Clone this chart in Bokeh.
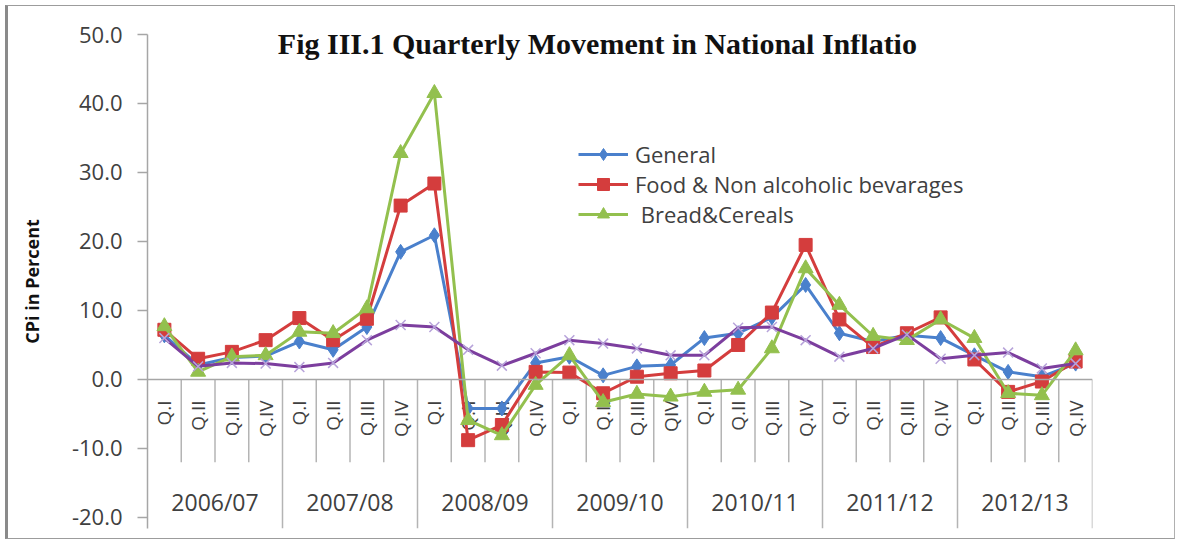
import numpy as np
from bokeh.plotting import figure
from bokeh.models import (Range1d, Span, Label, Legend, LegendItem,
                          NumeralTickFormatter, FixedTicker)
from bokeh.core.properties import value
from bokeh.embed import file_html
from bokeh.resources import INLINE

# ---------------- data ----------------
years = ["2006/07", "2007/08", "2008/09", "2009/10", "2010/11", "2011/12", "2012/13"]
quarter_labels = ["Q.I", "Q.II", "Q.III", "Q.IV",
                  "Q.I", "Q.II", "Q.III", "Q.IV",
                  "Q.I", "Q.II", "Q.III", "Q.IV",
                  "Q.I", "Q.II", "Q.III", "QIV",
                  "Q.I", "Q.II", "Q.III", "Q.IV",
                  "Q.I", "Q.II", "Q.III", "Q.IV",
                  "Q.I", "Q.II", "Q.III", "Q.IV"]
general = [6.4, 2.1, 3.2, 3.4, 5.5, 4.3, 7.6, 18.5, 20.9, -4.2, -4.2, 2.4, 3.3, 0.6,
           1.9, 2.1, 6.0, 6.7, 9.0, 13.7, 6.7, 5.5, 6.4, 6.0, 3.5, 1.1, 0.4, 2.3]
food = [7.2, 3.0, 4.0, 5.7, 8.9, 5.7, 8.8, 25.2, 28.4, -8.8, -6.6, 1.1, 1.0, -2.0,
        0.4, 0.9, 1.3, 5.0, 9.7, 19.5, 8.7, 4.7, 6.7, 9.0, 2.9, -1.8, -0.3, 2.6]
bread = [7.7, 1.1, 3.3, 3.5, 6.9, 6.7, 10.3, 32.8, 41.5, -5.9, -8.1, -0.8, 3.5, -3.3,
         -2.1, -2.5, -1.8, -1.5, 4.5, 16.1, 10.8, 6.3, 5.7, 8.7, 6.0, -2.0, -2.3, 4.2]
other = [6.0, 1.9, 2.4, 2.3, 1.8, 2.4, 5.7, 7.9, 7.6, 4.3, 2.0, 3.8, 5.7, 5.2,
         4.5, 3.5, 3.5, 7.5, 7.6, 5.7, 3.3, 4.5, 6.5, 3.0, 3.5, 3.9, 1.6, 2.3]
y_ticks = [-20, -10, 0, 10, 20, 30, 40, 50]
title_text = "Fig III.1 Quarterly Movement in National Inflatio"
series_names = ["General", "Food & Non alcoholic bevarages", " Bread&Cereals"]

# ---------------- styling ----------------
BLUE = "#4A80CC"
RED = "#D43D3D"
GREEN = "#93C04E"
PURPLE = "#7C3E9E"
LAVENDER = "#B7A3DA"
AXIS = "#A6A6A6"
TXT = "#404040"
FONT = "Open Sans"

n = len(quarter_labels)
xs = [i + 0.5 for i in range(n)]
zeros = [0] * n
y_min = -21.6

p = figure(width=1170, height=534,
           x_range=Range1d(0, n), y_range=Range1d(y_min, 50),
           output_backend="svg", toolbar_location=None,
           x_axis_location=None,
           min_border_left=139, min_border_right=86,
           min_border_top=28, min_border_bottom=12)
p.grid.visible = False
p.outline_line_color = None
p.background_fill_color = "white"
p.border_fill_color = "white"
p.styles = {"margin-left": "5px", "margin-top": "5px",
            "border-top": "1px solid #9C9C9C",
            "border-right": "1px solid #B0B0B0",
            "border-bottom": "1px solid #9C9C9C",
            "border-left": "3px solid #8A8A8A"}

ya = p.yaxis[0]
ya.ticker = FixedTicker(ticks=y_ticks)
ya.formatter = NumeralTickFormatter(format="0.0")
ya.major_label_text_font = FONT
ya.major_label_text_font_size = "22px"
ya.major_label_text_color = TXT
ya.axis_line_color = AXIS
ya.axis_line_width = 1.5
ya.major_tick_line_color = AXIS
ya.major_tick_line_width = 1.5
ya.major_tick_out = 10
ya.major_tick_in = 0
ya.minor_tick_out = 0
ya.minor_tick_in = 0
ya.major_label_standoff = 15
ya.axis_label = "CPi in Percent"
ya.axis_label_text_font = FONT
ya.axis_label_text_font_style = "bold"
ya.axis_label_text_font_size = "18px"
ya.axis_label_text_color = "#111111"
ya.axis_label_standoff = 25

# category axis at zero
p.add_layout(Span(location=0, dimension="width", line_color=AXIS, line_width=1.5))
minor_x = [i for i in range(1, n) if i % 4 != 0]
year_x = [i for i in range(4, n + 1, 4)]
p.segment(x0=minor_x, y0=[0] * len(minor_x), x1=minor_x, y1=[-12] * len(minor_x),
          line_color="#B4B4B4", line_width=1.5)
p.segment(x0=year_x, y0=[0] * len(year_x), x1=year_x, y1=[y_min] * len(year_x),
          line_color="#B4B4B4", line_width=1.5)
p.text(x=xs, y=zeros, text=quarter_labels, angle=np.pi / 2,
       text_align="right", text_baseline="middle", y_offset=21,
       text_font=value(FONT), text_font_size="19px", text_color=TXT)
p.text(x=[4 * k + 2 for k in range(len(years))], y=[0] * len(years), text=years,
       text_align="center", text_baseline="middle", y_offset=123,
       text_font=value(FONT), text_font_size="23px", text_color=TXT)

# series
r1l = p.line(xs, general, line_color=BLUE, line_width=3)
r1m = p.scatter(xs, general, marker="diamond", size=15, fill_color=BLUE, line_color=BLUE)
r2l = p.line(xs, food, line_color=RED, line_width=3)
r2m = p.scatter(xs, food, marker="square", size=13, fill_color=RED, line_color=RED)
r3l = p.line(xs, bread, line_color=GREEN, line_width=3)
r3m = p.scatter(xs, bread, marker="triangle", size=15, fill_color=GREEN, line_color=GREEN)
r4l = p.line(xs, other, line_color=PURPLE, line_width=3)
r4m = p.scatter(xs, other, marker="x", size=14, line_color=LAVENDER, line_width=1.5)

legend = Legend(items=[LegendItem(label=series_names[0], renderers=[r1l, r1m]),
                       LegendItem(label=series_names[1], renderers=[r2l, r2m]),
                       LegendItem(label=series_names[2], renderers=[r3l, r3m])],
                location=(431, 299), orientation="vertical",
                glyph_width=50, glyph_height=30, label_height=30, spacing=0,
                label_standoff=7, padding=0, margin=0,
                label_text_font=FONT, label_text_font_size="22px",
                label_text_color=TXT,
                border_line_alpha=0, background_fill_alpha=0)
p.add_layout(legend)

p.add_layout(Label(x=13.33, y=48.66, text=title_text,
                   text_font="Liberation Serif", text_font_style="bold",
                   text_font_size="30px", text_align="center",
                   text_baseline="alphabetic", text_color="#111111"))

open("out.html", "w").write(file_html(p, INLINE))
